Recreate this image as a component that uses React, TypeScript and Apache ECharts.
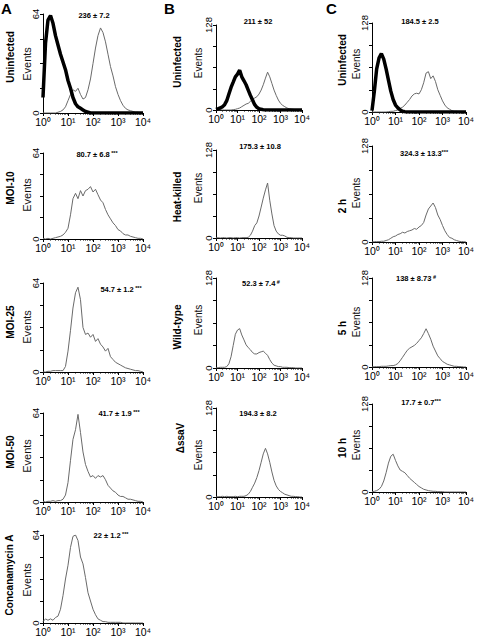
import React, { useEffect, useRef } from 'react';
import * as echarts from 'echarts';

const FONT = '"Liberation Sans", Arial, Helvetica, sans-serif';

// Fluorescence channel bins (10 per decade, 10^0 .. 10^4)
const fluorBins = [
  1, 1.26, 1.58, 2, 2.51, 3.16, 3.98, 5.01, 6.31, 7.94,
  10, 12.6, 15.8, 20, 25.1, 31.6, 39.8, 50.1, 63.1, 79.4,
  100, 126, 158, 200, 251, 316, 398, 501, 631, 794,
  1000, 1260, 1580, 2000, 2510, 3160, 3980, 5010, 6310, 7940,
  10000,
];
const xTickLabels = ['10⁰', '10¹', '10²', '10³', '10⁴'];

// Column A
const aUninfControl = [10, 45, 60, 63, 58, 50, 44, 38, 33, 28, 21, 16, 10, 6, 4, 3, 2, 1, 0.5, 0, 0, 0, 0, 0, 0, 0, 0, 0, 0, 0, 0, 0, 0, 0, 0, 0, 0, 0, 0, 0, 0];
const aUninfected = [0, 0, 0, 0, 0, 0, 0.5, 1, 2, 4, 8, 12, 15, 14, 16, 12, 9, 10, 15, 22, 32, 42, 50, 55, 52, 46, 38, 30, 24, 17, 12, 8, 5, 3, 2, 1.5, 1, 0.5, 0.5, 0, 0];
const aMoi10 = [0.5, 0, 0.5, 0, 0.5, 1, 1.5, 2, 3, 5, 8, 18, 30, 34, 30, 36, 32, 36, 37, 39, 35, 37, 33, 29, 27, 22, 18, 15, 12, 10, 7, 6, 4, 3, 3, 2, 1.5, 1, 0.5, 0.5, 0];
const aMoi25 = [0, 0, 0.5, 0.5, 1, 1, 1, 1, 1, 4, 15, 30, 46, 57, 61, 52, 32, 27, 28, 25, 27, 22, 24, 20, 18, 15, 17, 11, 9, 7, 6, 5, 4, 3, 2.5, 2, 1.5, 1, 1, 0.5, 0];
const aMoi50 = [0.5, 0, 0.5, 0.5, 1, 0.5, 1, 1, 2, 5, 14, 30, 45, 52, 63, 50, 36, 27, 22, 18, 19, 17, 19, 18, 19, 16, 12, 10, 8, 7, 5, 4, 4, 3, 2, 2, 1.5, 1, 0.5, 0.5, 0];
const aConcanamycin = [1, 3, 2, 3, 2, 4, 5, 10, 20, 32, 42, 55, 63, 64, 60, 48, 43, 33, 22, 16, 10, 6, 3, 2, 1, 1, 0.5, 0.5, 0.5, 0.5, 0.5, 0.5, 0, 0, 0, 0, 0, 0, 0, 0, 0];

// Column B
const bUninfControl = [1, 2, 3, 5, 8, 14, 24, 34, 42, 50, 54, 60, 50, 44, 38, 30, 22, 15, 8, 4, 2, 1, 0.5, 0, 0, 0, 0, 0, 0, 0, 0, 0, 0, 0, 0, 0, 0, 0, 0, 0, 0];
const bUninfected = [0, 0, 0, 0, 0, 0, 0, 0, 0.5, 1, 2, 3, 5, 7, 9, 10, 13, 16, 18, 20, 24, 30, 38, 48, 57, 50, 40, 30, 22, 15, 10, 7, 5, 3, 2, 1.5, 1, 0.5, 0.5, 0, 0];
const bHeatKilled = [0, 0.5, 0, 0.5, 0.5, 0, 0.5, 0.5, 0, 0.5, 0.5, 0, 0.5, 0.5, 0.5, 1, 4, 10, 18, 22, 32, 45, 58, 70, 80, 55, 35, 18, 10, 6, 4, 4, 3, 1, 0.5, 0.5, 0, 0, 0, 0, 0];
const bWildType = [0, 0.5, 1, 1, 1, 2, 6, 16, 32, 48, 54, 56, 47, 40, 33, 29, 26, 22, 20, 20, 22, 23, 24, 21, 18, 12, 7, 4, 3, 2, 2, 1, 1, 1, 0.5, 0.5, 0.5, 0, 0, 0, 0];
const bSsaV = [0, 0.5, 0.5, 1, 0.5, 1, 0.5, 0.5, 0.5, 1, 0.5, 1, 1, 1, 2, 4, 8, 14, 20, 28, 38, 50, 62, 70, 62, 50, 36, 24, 16, 11, 8, 6, 4, 3, 2, 1, 1, 0.5, 0.5, 0, 0];

// Column C
const cUninfControl = [2, 30, 62, 78, 84, 76, 62, 46, 30, 18, 10, 6, 3, 1, 0.5, 0, 0, 0, 0, 0, 0, 0, 0, 0, 0, 0, 0, 0, 0, 0, 0, 0, 0, 0, 0, 0, 0, 0, 0, 0, 0];
const cUninfected = [0, 0, 0, 0, 0, 0, 0, 0.5, 1, 1, 2, 3, 5, 7, 10, 14, 18, 23, 26, 27, 26, 32, 42, 56, 58, 48, 52, 44, 32, 24, 16, 10, 6, 4, 2, 1, 1, 0.5, 0.5, 0, 0];
const c2h = [0, 0.5, 0.5, 0.5, 1, 1, 2, 3, 5, 7, 8, 10, 11, 13, 12, 14, 15, 16, 18, 17, 20, 22, 26, 36, 44, 48, 52, 46, 36, 30, 22, 15, 10, 6, 5, 3, 2, 1, 0.5, 0.5, 0];
const c5h = [0, 0.5, 0.5, 0.5, 1, 1, 1, 1.5, 2, 2, 3, 5, 9, 14, 19, 24, 27, 29, 31, 34, 38, 42, 48, 55, 48, 40, 30, 23, 16, 12, 8, 6, 4, 3, 2, 1, 1, 0.5, 0.5, 0, 0];
const c10h = [0.5, 1, 2, 4, 8, 16, 28, 42, 52, 55, 46, 38, 32, 30, 28, 24, 20, 17, 14, 11, 8, 6, 4, 3, 2, 1.5, 1, 1, 0.5, 0.5, 0.5, 0, 0, 0, 0, 0, 0, 0, 0, 0, 0];

const statMain = ['236 ± 7.2', '80.7 ± 6.8', '54.7 ± 1.2', '41.7 ± 1.9', '22 ± 1.2', '211 ± 52', '175.3 ± 10.8', '52.3 ± 7.4', '194.3 ± 8.2', '184.5 ± 2.5', '324.3 ± 13.3', '138 ± 8.73', '17.7 ± 0.7'];
const statSup = [' ', ' ***', ' ***', ' ***', ' ***', ' ', ' ', ' #', ' ', ' ', '***', ' #', '***'];
const rowLabels = ['Uninfected', 'MOI-10', 'MOI-25', 'MOI-50', 'Concanamycin A', 'Uninfected', 'Heat-killed', 'Wild-type', 'ΔssaV', 'Uninfected', '2 h', '5 h', '10 h'];
const panelLetters = ['A', 'B', 'C'];
const yAxisName = 'Events';
const yMaxA = 64;
const yMaxBC = 128;

const panelControl: (number[] | null)[] = [aUninfControl, null, null, null, null, bUninfControl, null, null, null, cUninfControl, null, null, null];
const panelSample: number[][] = [aUninfected, aMoi10, aMoi25, aMoi50, aConcanamycin, bUninfected, bHeatKilled, bWildType, bSsaV, cUninfected, c2h, c5h, c10h];
const panelYMax = [yMaxA, yMaxA, yMaxA, yMaxA, yMaxA, yMaxBC, yMaxBC, yMaxBC, yMaxBC, yMaxBC, yMaxBC, yMaxBC, yMaxBC];

// layout (pixels)
const layout = [
  { left: 43, top: 14, width: 100, height: 99, stat: [94, 15], row: [10, 57], ev: [27, 64, 11] },
  { left: 43, top: 153, width: 100, height: 86, stat: [97, 154], row: [10, 188], ev: [27, 195, 11] },
  { left: 43, top: 283, width: 100, height: 89, stat: [121, 289], row: [10, 322], ev: [27, 327, 11] },
  { left: 43, top: 413, width: 100, height: 89, stat: [119, 413], row: [10, 452], ev: [27, 456, 11] },
  { left: 43, top: 535, width: 100, height: 88, stat: [111, 535], row: [9, 575], ev: [27, 580, 11] },
  { left: 216, top: 25, width: 86, height: 85, stat: [258, 21], row: [177, 62], ev: [198, 63, 10] },
  { left: 216, top: 150, width: 86, height: 88, stat: [260, 146], row: [177, 197], ev: [198, 188, 10] },
  { left: 216, top: 278, width: 86, height: 90, stat: [261, 283], row: [177, 327], ev: [198, 320, 10] },
  { left: 216, top: 408, width: 86, height: 89, stat: [258, 413], row: [180, 438], ev: [198, 455, 10] },
  { left: 372, top: 23, width: 94, height: 89, stat: [420, 21], row: [342, 60], ev: [356, 64, 10] },
  { left: 372, top: 146, width: 94, height: 96, stat: [424, 153], row: [342, 206], ev: [356, 193, 10] },
  { left: 372, top: 278, width: 94, height: 89, stat: [416, 278], row: [342, 328], ev: [356, 322, 10] },
  { left: 372, top: 404, width: 94, height: 88, stat: [421, 402], row: [342, 448], ev: [356, 445, 10] },
];
const letterX = [1, 164, 326];

function buildOption() {
  const grid = layout.map((l) => ({ left: l.left, top: l.top, width: l.width, height: l.height }));
  const xAxis = layout.map((_, i) => ({
    gridIndex: i,
    type: 'log',
    logBase: 10,
    min: 1,
    max: 10000,
    axisLine: { lineStyle: { color: '#000', width: 1 } },
    axisTick: { length: 3, lineStyle: { color: '#000' } },
    minorTick: { show: true, splitNumber: 9, length: 1.5, lineStyle: { color: '#000' } },
    splitLine: { show: false },
    minorSplitLine: { show: false },
    axisLabel: {
      formatter: (v: number) => xTickLabels[Math.round(Math.log10(v))],
      fontSize: 10.5,
      fontFamily: FONT,
      color: '#000',
      margin: 3,
    },
  }));
  const yAxis = layout.map((_, i) => {
    const yMax = panelYMax[i];
    return {
      gridIndex: i,
      type: 'value',
      min: 0,
      max: yMax,
      interval: yMax / 4,
      axisLine: { show: true, lineStyle: { color: '#000', width: 1 } },
      axisTick: { show: true, length: 3, lineStyle: { color: '#000' } },
      splitLine: { show: false },
      axisLabel: {
        rotate: 90,
        formatter: (v: number) => (v === 0 || v === yMax ? String(v) : ''),
        fontSize: 9.5,
        fontFamily: FONT,
        color: '#000',
        margin: 3,
      },
    };
  });
  const series: any[] = [];
  panelSample.forEach((vals, i) => {
    series.push({
      type: 'line',
      xAxisIndex: i,
      yAxisIndex: i,
      showSymbol: false,
      symbol: 'none',
      data: vals.map((v, k) => [fluorBins[k], v]),
      lineStyle: { color: '#6a6a6a', width: 1 },
      z: 2,
    });
    const ctrl = panelControl[i];
    if (ctrl) {
      series.push({
        type: 'line',
        xAxisIndex: i,
        yAxisIndex: i,
        showSymbol: false,
        symbol: 'none',
        data: ctrl.map((v, k) => [fluorBins[k], v]),
        lineStyle: { color: '#000', width: 3.5 },
        z: 3,
      });
    }
  });

  const graphic: any[] = [];
  panelLetters.forEach((L, i) => {
    graphic.push({
      type: 'text', x: letterX[i], y: 1,
      style: { text: L, fontSize: 15, fontWeight: 'bold', fontFamily: FONT, fill: '#000', align: 'left', verticalAlign: 'top' },
    });
  });
  layout.forEach((l, i) => {
    graphic.push({
      type: 'text', x: l.stat[0], y: l.stat[1],
      style: {
        text: statMain[i] + (statSup[i].trim() ? '{s|' + statSup[i] + '}' : ''),
        fontSize: 7.5, fontWeight: 'bold', fontFamily: FONT, fill: '#000',
        align: 'center', verticalAlign: 'middle',
        rich: { s: { fontSize: 5.5, fontWeight: 'bold', fontFamily: FONT, fill: '#000', verticalAlign: 'top' } },
      },
    });
    graphic.push({
      type: 'text', x: l.row[0], y: l.row[1], rotation: Math.PI / 2,
      style: { text: rowLabels[i], fontSize: 10, fontWeight: 'bold', fontFamily: FONT, fill: '#000', align: 'center', verticalAlign: 'middle' },
    });
    graphic.push({
      type: 'text', x: l.ev[0], y: l.ev[1], rotation: Math.PI / 2,
      style: { text: yAxisName, fontSize: l.ev[2], fontFamily: FONT, fill: '#111', align: 'center', verticalAlign: 'middle' },
    });
  });

  return {
    animation: false,
    backgroundColor: '#fff',
    grid,
    xAxis,
    yAxis,
    series,
    graphic,
  };
}

export default function App() {
  const ref = useRef<HTMLDivElement>(null);
  useEffect(() => {
    if (!ref.current) return;
    const chart = echarts.init(ref.current, null, { renderer: 'svg' });
    chart.setOption(buildOption() as any);
    return () => chart.dispose();
  }, []);
  return (
    <div
      ref={ref}
      style={{ position: 'absolute', left: 0, top: 0, width: 480, height: 637, background: '#fff' }}
    />
  );
}
